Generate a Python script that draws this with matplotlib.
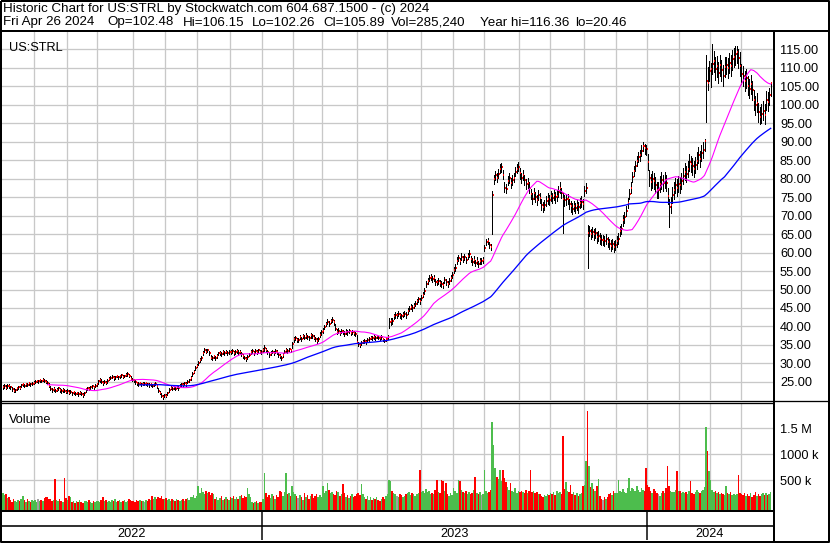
import numpy as np
import pandas as pd
import matplotlib
matplotlib.use('Agg')
import matplotlib.pyplot as plt

plt.rcParams['font.family'] = ['Liberation Sans', 'DejaVu Sans']

# trading days per month, May 2022 .. Apr 2024
month_days = [21, 21, 20, 23, 21, 21, 21, 21,
              20, 19, 23, 19, 22, 21, 20, 23, 20, 22, 21, 20,
              21, 20, 20, 20]
years = ['2022', '2023', '2024']
year_months = [8, 12, 4]

# daily closes, one line per month
close = [
    23.6, 23.9, 23.4, 24.0, 23.8, 23.5, 23.1, 22.6, 22.8, 23.3, 23.6, 23.4, 24.1, 24.3, 23.9, 24.4, 24.2, 24.6, 24.3, 24.5, 24.8,
    25.0, 25.3, 25.3, 25.4, 25.2, 25.6, 25.3, 25.1, 24.6, 24.0, 23.2, 22.8, 23.1, 22.6, 22.9, 23.3, 22.7, 22.5, 22.9, 22.6, 22.4,
    22.6, 22.1, 22.4, 21.9, 22.2, 21.8, 22.0, 21.7, 22.1, 21.8, 21.4, 21.9, 23.0, 23.3, 23.1, 23.5, 23.8, 23.6, 24.0, 24.3,
    25.2, 25.6, 25.1, 24.6, 25.0, 24.8, 25.3, 25.9, 26.1, 26.4, 26.0, 26.3, 26.6, 26.2, 26.5, 26.8, 26.4, 26.6, 26.9, 27.1, 26.7, 25.9, 25.6,
    25.5, 24.9, 24.6, 24.4, 24.7, 24.3, 24.5, 24.5, 24.6, 24.3, 24.1, 24.4, 24.0, 24.3, 24.5, 23.8, 22.6, 22.0, 21.3, 20.9, 21.4,
    21.2, 21.9, 22.9, 23.4, 23.1, 23.6, 23.2, 23.7, 23.3, 23.9, 24.3, 24.1, 24.6, 24.4, 25.0, 25.4, 26.1, 27.2, 27.8, 28.7, 29.4,
    30.2, 30.9, 31.4, 32.9, 33.6, 33.2, 33.5, 32.8, 31.6, 31.4, 31.9, 31.5, 32.1, 32.7, 32.9, 32.5, 33.0, 32.8, 33.2, 32.7, 33.1,
    33.0, 33.3, 32.8, 33.1, 33.4, 32.9, 33.2, 32.6, 31.9, 31.6, 31.1, 31.8, 32.4, 33.0, 33.3, 32.9, 33.4, 33.1, 33.5, 33.2, 33.0,
    33.6, 34.1, 33.5, 33.0, 32.3, 32.9, 33.2, 32.8, 33.3, 33.0, 32.3, 31.9, 31.5, 32.4, 33.2, 33.6, 33.3, 33.8, 33.5, 35.2,
    36.5, 36.9, 36.4, 36.4, 37.1, 36.6, 37.3, 37.0, 37.5, 37.2, 36.9, 37.6, 37.3, 37.0, 36.5, 36.2, 36.6, 37.8, 38.4,
    38.9, 39.8, 40.6, 41.2, 40.8, 41.5, 41.8, 41.1, 39.4, 38.6, 38.9, 38.3, 38.7, 38.5, 38.0, 38.6, 38.4, 38.8, 38.2, 38.5, 38.3, 37.9, 35.8,
    35.3, 35.0, 35.5, 35.9, 36.1, 35.8, 36.3, 36.7, 37.0, 36.8, 37.2, 36.9, 37.3, 37.0, 36.8, 37.1, 36.5, 36.2, 36.6,
    37.2, 41.2, 41.6, 41.5, 42.8, 43.1, 43.1, 43.4, 43.0, 42.7, 43.2, 43.5, 43.1, 44.2, 44.8, 45.3, 44.9, 45.6, 46.2, 46.8, 47.3, 46.9,
    47.8, 48.6, 49.5, 51.6, 52.3, 53.1, 53.4, 52.8, 53.2, 52.1, 51.9, 52.4, 51.7, 51.5, 51.2, 52.5, 52.0, 51.6, 52.3, 53.2, 53.9,
    55.2, 55.9, 57.8, 58.4, 57.6, 58.9, 58.2, 58.7, 57.9, 59.1, 59.6, 58.3, 57.5, 58.1, 57.2, 57.8, 56.9, 57.6, 57.6, 57.9,
    61.2, 62.8, 63.1, 62.0, 61.4, 75.6, 79.8, 80.9, 80.2, 81.3, 82.7, 83.1, 81.0, 77.6, 77.2, 79.4, 80.1, 78.8, 79.6, 80.3, 81.8, 82.6, 83.2,
    81.4, 80.2, 81.0, 79.6, 78.5, 78.9, 77.6, 75.8, 74.6, 76.0, 75.1, 74.3, 75.5, 74.8, 73.0, 72.4, 72.9, 74.0, 74.6, 74.2,
    75.3, 74.7, 75.6, 74.9, 75.4, 76.5, 77.6, 76.2, 74.6, 74.1, 74.4, 74.5, 73.2, 72.5, 71.9, 72.6, 72.0, 72.8, 72.2, 73.4, 73.8, 73.2,
    76.6, 77.4, 65.3, 65.8, 65.1, 65.6, 64.9, 65.3, 64.1, 64.5, 63.8, 63.4, 63.4, 63.2, 63.6, 62.8, 62.3, 61.9, 62.4, 61.6, 62.1,
    63.0, 63.8, 65.9, 66.4, 68.7, 69.5, 71.2, 73.4, 75.8, 77.6, 80.4, 82.1, 83.4, 84.8, 85.9, 86.3, 87.6, 88.9, 88.2, 87.9,
    84.6, 80.2, 79.1, 79.8, 79.4, 78.2, 76.9, 76.9, 78.6, 79.5, 78.8, 79.6, 78.9, 75.4, 72.3, 72.9, 75.6, 76.8, 78.4, 77.6, 78.6,
    78.2, 79.4, 80.8, 81.9, 81.2, 82.6, 84.6, 83.9, 83.3, 82.7, 83.6, 84.9, 86.3, 85.4, 86.9, 87.8, 90.2, 106.4, 105.8, 109.1,
    109.8, 110.9, 111.8, 109.6, 110.4, 108.7, 110.8, 109.3, 107.9, 110.2, 110.7, 109.9, 111.4, 110.6, 112.3, 112.9, 113.6, 114.2, 112.6, 110.6,
    108.3, 107.9, 106.4, 107.2, 105.1, 104.3, 105.6, 103.9, 101.2, 99.8, 100.6, 97.9, 96.8, 97.6, 98.4, 97.2, 101.3, 100.8, 102.5, 105.89,
]

high = [
    24.2, 24.3, 24.1, 24.4, 24.3, 24.0, 23.7, 23.3, 23.2, 23.7, 24.0, 23.9, 24.4, 24.8, 24.5, 24.7, 24.6, 24.9, 24.8, 24.9, 25.2,
    25.4, 25.6, 25.5, 25.8, 25.6, 26.0, 25.8, 25.5, 25.2, 24.6, 23.9, 23.4, 23.5, 23.2, 23.3, 23.7, 23.3, 23.0, 23.3, 23.1, 22.9,
    23.0, 22.7, 22.8, 22.4, 22.5, 22.3, 22.4, 22.2, 22.5, 22.2, 21.9, 22.3, 23.4, 23.7, 23.6, 23.9, 24.2, 24.0, 24.4, 24.7,
    25.6, 26.0, 25.7, 25.2, 25.4, 25.3, 25.7, 26.2, 26.5, 26.8, 26.5, 26.7, 27.0, 26.7, 26.9, 27.2, 26.9, 27.0, 27.3, 27.6, 27.2, 26.6, 26.0,
    25.9, 25.4, 25.0, 24.9, 25.1, 24.8, 24.9, 24.9, 25.0, 24.8, 24.6, 24.8, 24.5, 24.7, 24.9, 24.4, 23.4, 22.6, 22.0, 21.5, 21.8,
    21.7, 22.3, 23.3, 23.8, 23.6, 24.0, 23.7, 24.1, 23.8, 24.3, 24.7, 24.6, 25.0, 24.9, 25.4, 25.9, 26.6, 27.7, 28.3, 29.2, 29.9,
    30.7, 31.4, 32.0, 33.4, 34.2, 33.8, 34.0, 33.4, 32.3, 31.9, 32.4, 32.0, 32.6, 33.2, 33.4, 33.0, 33.5, 33.3, 33.7, 33.3, 33.6,
    33.5, 33.8, 33.4, 33.6, 33.9, 33.5, 33.7, 33.2, 32.5, 32.1, 31.7, 32.3, 32.9, 33.5, 33.8, 33.4, 33.9, 33.6, 34.0, 33.7, 33.5,
    34.3, 34.9, 34.1, 33.6, 33.0, 33.4, 33.7, 33.4, 33.8, 33.5, 32.9, 32.5, 32.1, 32.9, 33.7, 34.1, 33.9, 34.3, 34.0, 35.8,
    37.2, 37.5, 37.0, 37.0, 37.7, 37.2, 37.9, 37.6, 38.1, 37.8, 37.5, 38.2, 37.9, 37.6, 37.1, 36.8, 37.2, 38.4, 39.1,
    39.5, 40.4, 41.3, 41.9, 41.4, 42.1, 42.6, 41.8, 40.6, 39.2, 39.5, 38.9, 39.3, 39.1, 38.7, 39.2, 39.0, 39.4, 38.9, 39.1, 38.9, 38.5, 37.8,
    35.9, 35.6, 36.0, 36.4, 36.6, 36.3, 36.8, 37.2, 37.5, 37.3, 37.7, 37.4, 37.8, 37.5, 37.3, 37.6, 37.0, 36.7, 37.2,
    37.8, 42.3, 42.4, 42.3, 43.5, 43.8, 43.7, 44.1, 43.7, 43.4, 43.9, 44.2, 43.8, 44.9, 45.5, 46.0, 45.7, 46.3, 46.9, 47.5, 47.9, 47.8,
    48.6, 49.4, 50.4, 52.4, 53.1, 53.9, 54.2, 53.6, 54.0, 52.9, 52.7, 53.2, 52.5, 52.3, 52.0, 53.3, 52.8, 52.4, 53.1, 54.0, 54.7,
    56.0, 56.8, 58.7, 59.3, 58.5, 59.8, 59.1, 59.6, 58.8, 60.0, 60.6, 59.2, 58.4, 59.0, 58.1, 58.7, 57.8, 58.5, 58.5, 58.8,
    62.1, 63.6, 64.0, 62.9, 62.3, 76.6, 81.0, 82.1, 81.4, 82.5, 83.9, 84.3, 82.4, 79.0, 78.6, 80.7, 81.4, 80.1, 80.9, 81.6, 83.1, 83.9, 84.6,
    82.8, 81.6, 82.3, 81.0, 79.9, 80.2, 79.0, 77.2, 76.0, 77.4, 76.5, 75.7, 76.9, 76.2, 74.4, 73.8, 74.3, 75.4, 76.0, 75.6,
    76.7, 76.1, 77.0, 76.3, 76.8, 77.9, 79.0, 77.6, 76.0, 75.5, 75.8, 75.9, 74.6, 73.9, 73.3, 74.0, 73.4, 74.2, 73.6, 74.8, 75.2, 74.6,
    78.0, 78.8, 67.4, 67.2, 66.5, 67.0, 66.3, 66.7, 65.5, 65.9, 65.2, 64.8, 64.8, 64.6, 65.0, 64.2, 63.7, 63.3, 63.8, 63.0, 63.5,
    64.4, 65.2, 67.3, 67.8, 70.1, 70.9, 72.6, 74.8, 77.2, 79.0, 81.8, 83.5, 84.8, 86.2, 87.3, 87.7, 89.0, 89.8, 89.5, 89.2,
    86.8, 82.4, 81.3, 82.0, 81.6, 80.4, 79.1, 79.1, 80.8, 81.7, 81.0, 81.8, 81.1, 77.6, 74.5, 75.1, 77.8, 79.0, 80.2, 79.8, 80.8,
    80.4, 81.6, 83.0, 84.1, 83.4, 84.8, 86.6, 86.1, 85.5, 84.9, 85.8, 87.1, 88.5, 87.6, 89.1, 90.0, 90.8, 113.5, 110.2, 111.8,
    111.4, 116.36, 114.5, 112.8, 113.3, 111.6, 113.5, 112.2, 110.8, 113.0, 112.8, 112.7, 114.1, 113.4, 114.9, 115.3, 115.9, 115.8, 115.2, 114.2,
    111.0, 110.4, 109.1, 109.6, 107.8, 106.9, 108.1, 106.5, 104.0, 102.4, 103.1, 100.6, 99.4, 100.2, 101.0, 100.1, 103.6, 103.4, 104.6, 106.15,
]

low = [
    23.2, 23.3, 23.0, 23.4, 23.4, 23.1, 22.6, 22.3, 22.4, 22.8, 23.1, 23.0, 23.5, 23.9, 23.6, 23.9, 23.8, 24.1, 24.0, 24.1, 24.4,
    24.6, 24.9, 24.8, 25.0, 24.9, 25.2, 25.0, 24.7, 24.3, 23.7, 22.9, 22.4, 22.6, 22.2, 22.5, 22.8, 22.4, 22.1, 22.4, 22.2, 22.0,
    22.1, 21.8, 21.9, 21.5, 21.8, 21.4, 21.6, 21.3, 21.7, 21.4, 21.0, 21.5, 22.4, 22.9, 22.7, 23.0, 23.4, 23.2, 23.5, 23.9,
    24.5, 25.0, 24.7, 24.2, 24.6, 24.4, 24.8, 25.4, 25.7, 26.0, 25.6, 25.9, 26.2, 25.8, 26.1, 26.4, 26.0, 26.2, 26.5, 26.7, 26.3, 25.6, 25.2,
    25.0, 24.5, 24.2, 24.0, 24.3, 23.9, 24.1, 24.1, 24.1, 23.9, 23.7, 24.0, 23.6, 23.9, 24.1, 23.3, 22.3, 21.6, 20.9, 20.46, 20.9,
    20.8, 21.4, 22.4, 23.0, 22.7, 23.2, 22.8, 23.3, 22.9, 23.5, 23.9, 23.7, 24.2, 24.0, 24.6, 25.0, 25.6, 26.6, 27.3, 28.2, 28.9,
    29.6, 30.3, 30.9, 32.2, 33.0, 32.7, 33.0, 32.3, 31.2, 30.9, 31.4, 31.0, 31.6, 32.2, 32.4, 32.0, 32.5, 32.3, 32.7, 32.2, 32.6,
    32.5, 32.8, 32.3, 32.6, 32.9, 32.4, 32.7, 32.1, 31.4, 31.1, 30.6, 31.3, 31.9, 32.5, 32.8, 32.4, 32.9, 32.6, 33.0, 32.7, 32.5,
    33.0, 33.4, 33.0, 32.5, 31.8, 32.3, 32.7, 32.3, 32.8, 32.5, 31.8, 31.4, 30.9, 31.8, 32.7, 33.1, 32.8, 33.3, 33.0, 34.3,
    35.9, 36.4, 35.9, 35.9, 36.6, 36.1, 36.8, 36.5, 37.0, 36.7, 36.4, 37.0, 36.8, 36.5, 36.0, 35.6, 36.0, 37.2, 37.8,
    38.3, 39.2, 40.0, 40.6, 40.2, 40.9, 41.1, 40.5, 39.0, 38.0, 38.3, 37.7, 38.1, 37.9, 37.4, 38.0, 37.8, 38.2, 37.6, 37.9, 37.7, 37.3, 35.4,
    34.8, 34.5, 35.0, 35.4, 35.6, 35.3, 35.8, 36.2, 36.5, 36.3, 36.7, 36.4, 36.8, 36.5, 36.3, 36.6, 36.0, 35.7, 36.1,
    36.6, 39.5, 40.4, 40.8, 42.1, 42.4, 42.3, 42.7, 42.3, 42.0, 42.5, 42.8, 42.4, 43.5, 44.1, 44.6, 44.2, 44.9, 45.5, 46.1, 46.6, 46.2,
    47.1, 47.9, 48.8, 50.8, 51.5, 52.3, 52.6, 52.0, 52.4, 51.3, 51.1, 51.6, 50.9, 50.7, 50.5, 51.7, 51.2, 50.8, 51.5, 52.4, 53.1,
    54.4, 55.1, 57.0, 57.6, 56.8, 58.1, 57.4, 57.9, 57.1, 58.3, 58.8, 57.5, 56.7, 57.3, 56.4, 57.0, 56.1, 56.8, 56.8, 57.1,
    60.4, 62.0, 62.3, 61.2, 60.6, 65.0, 78.6, 79.7, 79.0, 80.1, 81.5, 81.9, 79.8, 76.4, 76.0, 78.2, 78.9, 77.6, 78.4, 79.1, 80.6, 81.4, 82.0,
    80.0, 78.8, 79.7, 78.2, 77.1, 77.5, 76.2, 74.4, 73.2, 74.6, 73.7, 72.9, 74.1, 73.4, 71.6, 71.0, 71.5, 72.6, 73.2, 72.8,
    73.9, 73.3, 74.2, 73.5, 74.0, 75.1, 76.2, 74.8, 65.2, 72.7, 73.0, 73.1, 71.8, 71.1, 70.5, 71.2, 70.6, 71.4, 70.8, 72.0, 72.4, 71.8,
    75.2, 76.0, 55.8, 64.4, 63.7, 64.2, 63.5, 63.9, 62.7, 63.1, 62.4, 62.0, 62.0, 61.8, 62.2, 61.4, 60.9, 60.5, 61.0, 60.2, 60.7,
    61.6, 62.4, 64.5, 65.0, 67.3, 68.1, 69.8, 72.0, 74.4, 76.2, 79.0, 80.7, 82.0, 83.4, 84.5, 84.9, 86.2, 87.5, 86.8, 86.5,
    82.4, 78.0, 76.9, 77.6, 77.2, 76.0, 74.7, 74.7, 76.4, 77.3, 76.6, 77.4, 76.7, 73.2, 67.0, 70.7, 73.4, 74.6, 76.2, 75.4, 76.4,
    76.0, 77.2, 78.6, 79.7, 79.0, 80.4, 82.2, 81.7, 81.1, 80.5, 81.4, 82.7, 84.1, 83.2, 84.7, 85.6, 87.6, 95.4, 104.0, 106.5,
    104.9, 108.4, 108.9, 106.7, 107.6, 105.9, 107.9, 106.4, 105.1, 107.4, 108.4, 107.1, 108.6, 107.8, 109.5, 110.1, 110.8, 111.2, 110.0, 107.8,
    105.6, 105.2, 103.7, 104.6, 102.5, 101.7, 102.9, 101.3, 98.5, 97.1, 97.9, 95.2, 94.9, 95.0, 95.8, 94.7, 98.6, 98.2, 100.0, 102.26,
]

# daily volume, thousands of shares
volume_k = [
    250, 210, 230, 160, 170, 120, 90, 140, 110, 80, 130, 100, 150, 190, 120, 90, 140, 110, 80, 130, 100,
    120, 90, 150, 110, 130, 95, 160, 170, 180, 140, 150, 110, 130, 520, 120, 100, 140, 110, 90, 540, 160,
    130, 190, 170, 90, 110, 70, 100, 80, 120, 90, 60, 110, 100, 80, 130, 90, 70, 110, 85, 100,
    110, 90, 120, 180, 100, 130, 90, 110, 80, 120, 100, 140, 90, 110, 130, 85, 100, 120, 90, 110, 140, 120, 100,
    110, 90, 120, 100, 130, 95, 110, 90, 120, 100, 140, 130, 205, 150, 170, 140, 180, 160, 190, 150, 140,
    160, 130, 150, 110, 140, 120, 100, 150, 130, 110, 120, 140, 100, 150, 160, 130, 170, 180, 210, 160, 190,
    400, 260, 360, 280, 240, 300, 250, 270, 220, 260, 230, 150, 170, 130, 160, 190, 120, 140, 180, 150, 130,
    180, 160, 200, 150, 170, 140, 190, 220, 160, 200, 180, 360, 240, 170, 90, 70, 80, 100, 60, 90, 80,
    150, 640, 260, 180, 220, 160, 240, 190, 150, 210, 180, 300, 270, 200, 280, 640, 230, 250, 200, 390,
    280, 240, 200, 160, 220, 180, 130, 250, 170, 210, 150, 190, 240, 160, 200, 230, 170, 210, 180,
    400, 260, 300, 450, 320, 250, 280, 230, 210, 300, 270, 200, 230, 430, 250, 180, 220, 160, 190, 230, 170, 200, 240,
    260, 210, 430, 240, 180, 150, 200, 130, 170, 120, 160, 140, 180, 130, 110, 150, 170, 140, 190,
    230, 500, 490, 300, 260, 230, 200, 180, 240, 210, 170, 190, 230, 250, 280, 220, 260, 240, 200, 230, 250, 690,
    280, 300, 250, 330, 270, 290, 230, 260, 240, 310, 500, 280, 260, 500, 480, 300, 450, 240, 200, 260, 220,
    350, 300, 260, 510, 490, 320, 270, 250, 300, 230, 280, 240, 260, 310, 560, 250, 230, 270, 210, 240,
    690, 300, 260, 280, 320, 1620, 1190, 740, 560, 520, 690, 480, 700, 540, 470, 380, 320, 450, 300, 270, 350, 260, 290,
    270, 300, 280, 260, 310, 250, 290, 690, 280, 300, 260, 270, 240, 230, 200, 180, 210, 190, 240, 220,
    260, 230, 280, 210, 300, 250, 270, 230, 1360, 330, 460, 290, 270, 420, 240, 280, 220, 260, 200, 230, 250, 400,
    420, 880, 1840, 770, 380, 450, 340, 300, 390, 520, 200, 150, 130, 170, 140, 180, 230, 260, 220, 300, 250,
    260, 500, 300, 280, 330, 270, 260, 350, 540, 300, 360, 330, 290, 400, 310, 280, 350, 320, 300, 740,
    420, 380, 300, 260, 340, 290, 250, 230, 200, 260, 290, 250, 350, 780, 400, 300, 280, 270, 320, 680, 290,
    300, 260, 280, 250, 270, 230, 300, 480, 260, 240, 280, 310, 270, 250, 300, 320, 380, 1520, 1070, 680,
    500, 320, 280, 300, 250, 270, 230, 260, 240, 220, 400, 250, 230, 270, 220, 240, 210, 230, 600, 260,
    240, 210, 260, 190, 230, 200, 250, 180, 220, 270, 200, 240, 190, 230, 260, 210, 250, 220, 240, 285,
]

price_ticks = np.arange(25, 116, 5)
vol_ticks = [500, 1000, 1500]
vol_labels = ['500 k', '1000 k', '1.5 M']

header1 = 'Historic Chart for US:STRL by Stockwatch.com 604.687.1500 - (c) 2024'
header2 = ['Fri Apr 26 2024', 'Op=102.48', 'Hi=106.15', 'Lo=102.26', 'Cl=105.89',
           'Vol=285,240', 'Year hi=116.36', 'lo=20.46']
header2_x = [3, 107, 183, 252, 323, 391, 480, 575]

n = sum(month_days)
assert len(close) == n and len(high) == n and len(low) == n and len(volume_k) == n

df = pd.DataFrame({'close': close, 'high': high, 'low': low, 'vol': volume_k})
df['ma30'] = df['close'].rolling(30).mean()
df['ma90'] = df['close'].rolling(90).mean()
chg = df['close'].diff().fillna(1)
vol_colors = np.where(chg > 0, '#4DBD4D', np.where(chg < 0, '#FF0000', '#A0A0A0'))

idx = np.arange(n)
month_start = np.cumsum([0] + month_days[:-1])
year_start_month = np.cumsum([0] + year_months[:-1])
year_edges = [month_start[m] - 0.5 for m in year_start_month[1:]]

W, H = 830, 543
PX = 0.72  # points per pixel at dpi 100
GRID = '#C8C8C8'
FS = 9.2


def box(x0, y0, x1, y1):
    return [x0 / W, 1 - y1 / H, (x1 - x0) / W, (y1 - y0) / H]


fig = plt.figure(figsize=(W / 100, H / 100), dpi=100)
fig.patch.set_facecolor('white')
XL = (-0.5, n + 0.5)

# price panel
ax_p = fig.add_axes(box(2, 31, 773, 400))
ax_p.set_xlim(*XL)
ax_p.set_ylim(20.1, 119.95)
ax_p.set_axisbelow(True)
ax_p.vlines(idx, df['low'], df['high'], colors='black', lw=1.0 * PX, antialiased=False, zorder=3)
ax_p.hlines(df['close'], idx + 0.35, idx + 1.0, colors='#FF0000', lw=1.6 * PX, antialiased=False, zorder=4)
ax_p.plot(idx, df['ma30'], color='#FF00FF', lw=1.1 * PX, zorder=5)
ax_p.plot(idx, df['ma90'], color='#0000FF', lw=1.3 * PX, zorder=5)
ax_p.set_yticks(price_ticks)
ax_p.set_yticklabels([f'{t:.2f}' for t in price_ticks])
ax_p.yaxis.tick_right()
ax_p.set_xticks(month_start[1:] - 0.5)
ax_p.tick_params(axis='x', length=0, labelbottom=False)
ax_p.tick_params(axis='y', length=0, pad=5, labelsize=FS)
ax_p.grid(True, color=GRID, lw=1.3 * PX)
for s in ax_p.spines.values():
    s.set_visible(False)
ax_p.text(0.009, 0.97, 'US:STRL', transform=ax_p.transAxes, ha='left', va='top', fontsize=FS)

# volume panel
ax_v = fig.add_axes(box(2, 403, 773, 509.5))
ax_v.set_xlim(*XL)
ax_v.set_ylim(-61, 1989)
ax_v.set_axisbelow(True)
ax_v.bar(idx, df['vol'] + 61, bottom=-61, width=1.0, color=vol_colors, linewidth=0, antialiased=False, zorder=3)
ax_v.set_yticks(vol_ticks)
ax_v.set_yticklabels(vol_labels)
ax_v.yaxis.tick_right()
ax_v.set_xticks(month_start[1:] - 0.5)
ax_v.tick_params(axis='x', length=0, labelbottom=False)
ax_v.tick_params(axis='y', length=0, pad=5, labelsize=FS)
ax_v.grid(True, color=GRID, lw=1.3 * PX)
for s in ax_v.spines.values():
    s.set_visible(False)
ax_v.text(0.009, 0.9, 'Volume', transform=ax_v.transAxes, ha='left', va='top', fontsize=FS)

# year band
ax_y = fig.add_axes(box(2, 511, 773, 540))
ax_y.set_xlim(*XL)
ax_y.set_ylim(0, 1)
ax_y.axis('off')
edges = [XL[0]] + year_edges + [XL[1]]
for e in year_edges:
    ax_y.axvline(e, color='black', lw=1.5 * PX)
for i, yr in enumerate(years):
    ax_y.text((edges[i] + edges[i + 1]) / 2, 0.22, yr, ha='center', va='center', fontsize=FS)

# frame and separators in pixel coordinates
ov = fig.add_axes([0, 0, 1, 1], zorder=10)
ov.set_xlim(0, W)
ov.set_ylim(H, 0)
ov.axis('off')
ov.patch.set_alpha(0)
k = dict(color='black', solid_capstyle='butt')
ov.plot([1, 828.5, 828.5, 1, 1], [1, 1, 541.5, 541.5, 1], lw=2 * PX, **k)
ov.plot([0, W], [30.5, 30.5], lw=2 * PX, **k)
ov.plot([774, 774], [30, 542], lw=2 * PX, **k)
ov.plot([0, W], [400.5, 400.5], lw=1.3 * PX, **k)
ov.plot([0, 774], [402.7, 402.7], lw=1.3 * PX, **k)
ov.plot([0, 774], [510.5, 510.5], lw=2 * PX, **k)
ov.plot([0, 774], [526, 526], lw=1.6 * PX, **k)
ov.text(3, 9, header1, ha='left', va='center', fontsize=9.6)
for x, t in zip(header2_x, header2):
    ov.text(x, 22.5, t, ha='left', va='center', fontsize=9.6)

fig.savefig('out.png', dpi=100, facecolor='white')
